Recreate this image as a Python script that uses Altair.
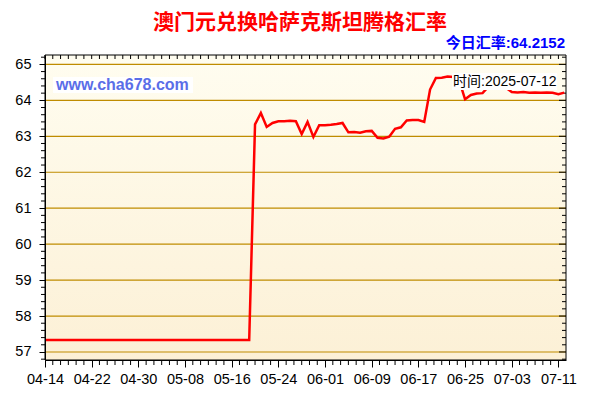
import altair as alt
import pandas as pd
import numpy as np

# ---------------- data ----------------
start_date = "2025-04-14"
rates = (
    [57.33] * 36
    + [63.33, 63.65, 63.26, 63.37, 63.42, 63.42, 63.43, 63.42, 63.06, 63.40,
       62.98, 63.31, 63.31, 63.32, 63.34, 63.37, 63.11, 63.12, 63.10, 63.14,
       63.15, 62.96, 62.94, 62.99, 63.21, 63.25, 63.44, 63.45, 63.45, 63.40,
       64.30, 64.62, 64.63, 64.66, 64.65, 64.55, 64.03, 64.15, 64.19, 64.20,
       64.38, 64.42, 64.40, 64.35, 64.23, 64.22, 64.23, 64.21, 64.22, 64.21,
       64.22, 64.21, 64.17, 64.2152]
)
x_tick_labels = ["04-14", "04-22", "04-30", "05-08", "05-16", "05-24",
                 "06-01", "06-09", "06-17", "06-25", "07-03", "07-11"]
x_label_step = 8
y_tick_values = [57, 58, 59, 60, 61, 62, 63, 64, 65]
title_text = "澳门元兑换哈萨克斯坦腾格汇率"
today_rate_text = "今日汇率:64.2152"
time_text = "时间:2025-07-12"
watermark_text = "www.cha678.com"

# ---------------- layout ----------------
W, H = 521, 305
X_DOMAIN = [0, 89.3]
Y_DOMAIN = [56.777, 65.261]
LATIN = "Liberation Sans, Noto Sans CJK SC"
CJK = "Noto Sans CJK SC"

dates = pd.date_range(start_date, periods=len(rates), freq="D")
df = pd.DataFrame({"day": np.arange(len(rates)), "date": dates.strftime("%Y-%m-%d"), "rate": rates})

xs = alt.Scale(domain=X_DOMAIN, nice=False, zero=False)
ys = alt.Scale(domain=Y_DOMAIN, nice=False, zero=False)

label_arr = "[" + ",".join("'%s'" % l for l in x_tick_labels) + "]"
x_axis = alt.Axis(values=[x_label_step * k for k in range(len(x_tick_labels))],
                  labelExpr=label_arr + "[round(datum.value/%d)]" % x_label_step,
                  title=None, grid=False, tickSize=7, tickColor="black", domainColor="black",
                  labelFont=LATIN, labelFontSize=14.5, labelColor="#000000", labelPadding=5,
                  labelFlush=False, labelOverlap=False, zindex=1)
y_axis = alt.Axis(values=y_tick_values, title=None, grid=False, tickSize=6, tickColor="black",
                  domainColor="black", labelFont=LATIN, labelFontSize=14.5, labelColor="#000000",
                  labelPadding=8, labelFlush=False, labelOverlap=False, zindex=1)

X = lambda f: alt.X(f, scale=xs, axis=x_axis)
Y = lambda f: alt.Y(f, scale=ys, axis=y_axis)

one = pd.DataFrame({"a": [0]})

# tick helper positions (axis decoration)
x_minor = [round(k * x_label_step / 6, 4) for k in range(0, 67) if k % 6 != 0]
x_all = [round(k * x_label_step / 6, 4) for k in range(0, 67)]
y_all = [round(56.8 + 0.2 * k, 1) for k in range(43)]
y_all = [v for v in y_all if Y_DOMAIN[0] <= v <= Y_DOMAIN[1]]
y_minor = [v for v in y_all if abs(v - round(v)) > 0.01]

bg = alt.Chart(one).mark_rect(
    fill=alt.LinearGradient(gradient="linear",
                            stops=[alt.GradientStop(color="#fffdf0", offset=0),
                                   alt.GradientStop(color="#fcf0d6", offset=1)],
                            x1=0, x2=0, y1=0, y2=1)
).encode(x=alt.value(0), x2=alt.value(W), y=alt.value(0), y2=alt.value(H))

grid = alt.Chart(pd.DataFrame({"v": y_tick_values})).mark_rule(color="#bf8c00", strokeWidth=1.2).encode(
    y=Y("v:Q"), x=alt.value(0), x2=alt.value(W))

left_minor = alt.Chart(pd.DataFrame({"v": y_minor})).mark_rule(color="black").encode(
    y=Y("v:Q"), x=alt.value(-4), x2=alt.value(0))
right_minor = alt.Chart(pd.DataFrame({"v": y_minor})).mark_rule(color="black").encode(
    y=Y("v:Q"), x=alt.value(W - 4), x2=alt.value(W))
right_major = alt.Chart(pd.DataFrame({"v": y_tick_values})).mark_rule(color="black").encode(
    y=Y("v:Q"), x=alt.value(W - 7), x2=alt.value(W))
bottom_minor = alt.Chart(pd.DataFrame({"t": x_minor})).mark_rule(color="black").encode(
    x=X("t:Q"), y=alt.value(H), y2=alt.value(H + 5))
top_ticks = alt.Chart(pd.DataFrame({"t": x_all})).mark_rule(color="black").encode(
    x=X("t:Q"), y=alt.value(0), y2=alt.value(4))

line = alt.Chart(df).mark_line(color="#ff0000", strokeWidth=2.5, strokeJoin="miter").encode(
    x=X("day:Q"), y=Y("rate:Q"))

border = alt.Chart(one).mark_rect(fillOpacity=0, stroke="black", strokeWidth=1).encode(
    x=alt.value(0), x2=alt.value(W), y=alt.value(0), y2=alt.value(H))

wm_box = alt.Chart(one).mark_rect(fill="white").encode(
    x=alt.value(8), x2=alt.value(148), y=alt.value(22), y2=alt.value(38))
wm_text = alt.Chart(pd.DataFrame({"t": [watermark_text]})).mark_text(
    align="left", baseline="middle", font=LATIN, fontSize=16, fontWeight="bold", color="#5a6ee8"
).encode(text="t:N", x=alt.value(11), y=alt.value(30))

time_box = alt.Chart(one).mark_rect(fill="white").encode(
    x=alt.value(407), x2=alt.value(512), y=alt.value(18), y2=alt.value(35))
time_label = alt.Chart(pd.DataFrame({"t": [time_text]})).mark_text(
    align="left", baseline="middle", font=LATIN, fontSize=14, color="black"
).encode(text="t:N", x=alt.value(408), y=alt.value(26.5))

title = alt.Chart(pd.DataFrame({"t": [title_text]})).mark_text(
    align="center", baseline="middle", font=CJK, fontSize=21, fontWeight="bold", color="#ff0000"
).encode(text="t:N", x=alt.value(255), y=alt.value(-32))
subtitle = alt.Chart(pd.DataFrame({"t": [today_rate_text]})).mark_text(
    align="right", baseline="middle", font=LATIN, fontSize=15, fontWeight="bold", color="#0000ff"
).encode(text="t:N", x=alt.value(520), y=alt.value(-12))

chart = alt.layer(
    bg, grid, left_minor, right_minor, right_major, bottom_minor, top_ticks,
    line, border, wm_box, wm_text, time_box, time_label, title, subtitle
).properties(
    width=W, height=H,
    padding={"left": 37, "top": 47, "right": 18, "bottom": 26},
    autosize=alt.AutoSizeParams(type="none"),
    background="white",
).configure_view(stroke=None)

chart.save("out.html", embed_options={"renderer": "svg", "actions": False})
